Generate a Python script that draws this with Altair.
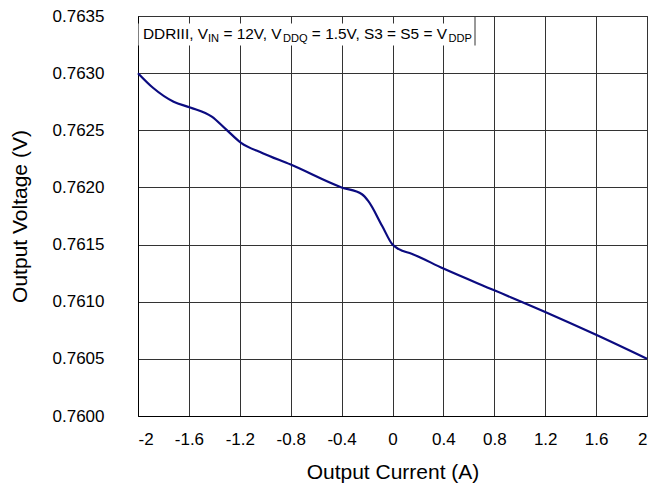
import altair as alt
import pandas as pd

# ---- data ----
current = [-2.0, -1.88, -1.72, -1.59, -1.42, -1.31, -1.19, -1.02, -0.80, -0.40,
           -0.24, -0.19, -0.08, 0.0, 0.05, 0.15, 0.40, 0.80, 1.20, 1.60, 2.0]
voltage = [0.76300, 0.76287, 0.76275, 0.76270, 0.76262, 0.76251, 0.76239, 0.76230,
           0.76220, 0.76200, 0.76194, 0.76188, 0.76166, 0.76150, 0.76146, 0.76142,
           0.76129, 0.76110, 0.76091, 0.76071, 0.76050]
x_ticks = [-2, -1.6, -1.2, -0.8, -0.4, 0, 0.4, 0.8, 1.2, 1.6, 2]
y_ticks = [0.7600, 0.7605, 0.7610, 0.7615, 0.7620, 0.7625, 0.7630, 0.7635]
# (text, is_subscript, leading space)
annotation = [("DDRIII, V", False, False), ("IN", True, False), ("= 12V, V", False, True),
              ("DDQ", True, False), ("= 1.5V, S3 = S5 = V", False, True), ("DDP", True, False)]

FONT = "Liberation Sans"
W, H = 509, 400

df = pd.DataFrame({"current": current, "voltage": voltage})
one = pd.DataFrame({"k": [0]})

line = alt.Chart(df).mark_line(color="#0b0b80", strokeWidth=2.2, interpolate="monotone").encode(
    x=alt.X("current:Q",
            scale=alt.Scale(domain=[-2, 2], nice=False, zero=False),
            axis=alt.Axis(values=x_ticks, labelExpr="'' + datum.value",
                          title="Output Current (A)", titleX=W / 2, titleY=56,
                          titleBaseline="middle", titleAlign="center",
                          labelPadding=15, tickSize=0, grid=True)),
    y=alt.Y("voltage:Q",
            scale=alt.Scale(domain=[0.7600, 0.7635], nice=False, zero=False),
            axis=alt.Axis(values=y_ticks, format=".4f",
                          title="Output Voltage (V)", titleX=-118, titleY=H / 2,
                          titleBaseline="middle", titleAlign="center", titleAngle=-90,
                          labelPadding=34, tickSize=0, grid=True)),
)

# annotation box (white background and right edge)
BOX_R = 337
box = alt.Chart(one).mark_rect(color="white").encode(
    x=alt.value(0.5), x2=alt.value(BOX_R), y=alt.value(7.5), y2=alt.value(29.5)
)
edge = alt.Chart(one).mark_rule(color="#333", strokeWidth=1).encode(
    x=alt.value(BOX_R), y=alt.value(0), y2=alt.value(29.5)
)

# Arial / Liberation Sans advance widths (per 1000 em)
adv = {"D": 722, "R": 722, "I": 278, ",": 278, " ": 278, "V": 667, "N": 722,
       "=": 584, "1": 556, "2": 556, "Q": 778, ".": 278, "5": 556, "S": 667, "3": 556,
       "P": 667}
FS, SFS = 15.4, 11.1
xpos = 5.0
texts = []
for seg, sub, lead in annotation:
    fs = SFS if sub else FS
    if lead:
        xpos += adv[" "] / 1000 * fs
    texts.append(alt.Chart(one).mark_text(
        align="left", baseline="alphabetic", font=FONT, fontSize=fs, color="black"
    ).encode(x=alt.value(xpos), y=alt.value(25.5 if sub else 23), text=alt.value(seg)))
    xpos += sum(adv[c] for c in seg) / 1000 * fs

chart = alt.layer(line, box, edge, *texts).properties(
    width=W, height=H,
    autosize=alt.AutoSizeParams(type="none"),
    padding={"left": 130, "top": 8, "right": 4, "bottom": 68},
).configure_view(stroke="#222", strokeWidth=1).configure_axis(
    labelFont=FONT, titleFont=FONT, labelFontSize=17, titleFontSize=21,
    labelColor="black", titleColor="black", titleFontWeight="normal",
    domainColor="black", domainWidth=1, gridColor="#333", gridWidth=1, gridOpacity=1,
)

chart.save("out.html", embed_options={"renderer": "svg", "actions": False})
